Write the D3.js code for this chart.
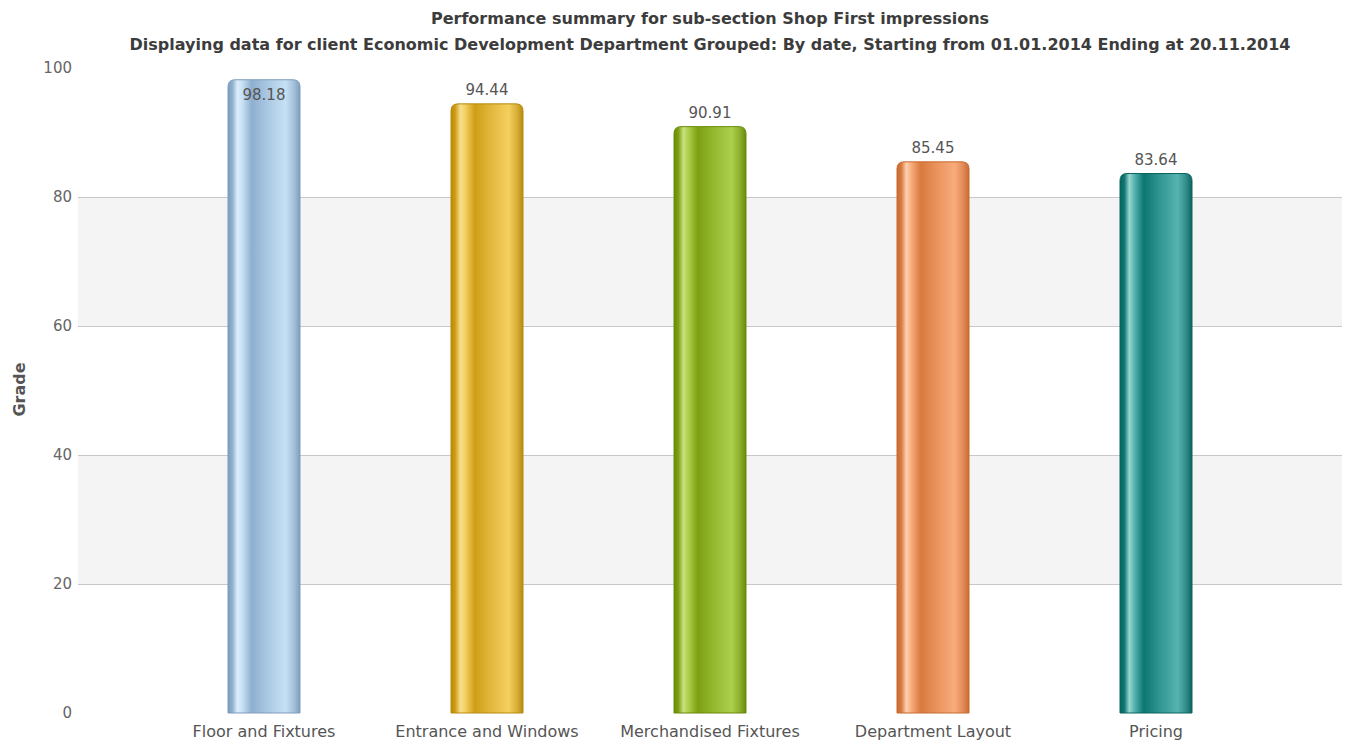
<!DOCTYPE html>
<html>
<head>
  <meta charset="utf-8">
  <script src="https://d3js.org/d3.v7.min.js"></script>
  <style>
    body { margin: 0; background: #fff; }
    svg { display: block; font-family: "DejaVu Sans", Verdana, sans-serif; }
  </style>
</head>
<body>
<div id="chart"></div>
<script>
  // data
  var categories = ["Floor and Fixtures", "Entrance and Windows", "Merchandised Fixtures", "Department Layout", "Pricing"];
  var grades = [98.18, 94.44, 90.91, 85.45, 83.64];
  var yTicks = [0, 20, 40, 60, 80, 100];
  var titleLines = [
    "Performance summary for sub-section Shop First impressions",
    "Displaying data for client Economic Development Department Grouped: By date, Starting from 01.01.2014 Ending at 20.11.2014"
  ];

  // cylinder colours per bar: [edge, highlight, dark, light]
  var barColors = [
    ["#7f9dbb", "#dcecf9", "#8eafcf", "#c6e1f5"],
    ["#b88a0c", "#f6de8e", "#cf9e16", "#f4d060"],
    ["#6a8a0a", "#c8e07e", "#7c9f12", "#acd04c"],
    ["#c96a30", "#fad0b0", "#d97a3e", "#f8ac7c"],
    ["#0b6460", "#9ad6d2", "#0d7672", "#55b4af"]
  ];

  var W = 1349, H = 740;
  var plotLeft = 78, plotRight = 1342, plotTop = 68, plotBottom = 713;

  var svg = d3.select("#chart").append("svg")
    .attr("width", W).attr("height", H);

  var y = d3.scaleLinear().domain([0, 100]).range([plotBottom, plotTop]);
  var x = d3.scaleBand().domain(categories).range([152.5, 1267.5]).paddingInner(0).paddingOuter(0);
  var barW = 72;

  // alternating bands
  var bands = [[20, 40], [60, 80]];
  svg.append("g").selectAll("rect").data(bands).enter().append("rect")
    .attr("x", plotLeft).attr("width", plotRight - plotLeft)
    .attr("y", function(d) { return y(d[1]); })
    .attr("height", function(d) { return y(d[0]) - y(d[1]); })
    .attr("fill", "#f4f4f4");

  // gridlines + tick labels
  var yAxis = d3.axisLeft(y).tickValues(yTicks).tickSize(0).tickPadding(0);
  var ga = svg.append("g").attr("transform", "translate(" + plotLeft + ",0)").call(yAxis);
  ga.select(".domain").remove();
  ga.selectAll(".tick line")
    .attr("x2", function(d) { return (d === 0 || d === 100) ? 0 : plotRight - plotLeft; })
    .attr("stroke", "#c8c8c8");
  ga.selectAll(".tick text")
    .attr("x", -6)
    .attr("fill", "#666")
    .style("font-size", "15px")
    .style("font-family", "DejaVu Sans, Verdana, sans-serif");

  // y axis title
  svg.append("text")
    .attr("transform", "translate(25," + ((plotTop + plotBottom) / 2 - 1) + ") rotate(-90)")
    .attr("text-anchor", "middle")
    .attr("font-weight", "bold")
    .attr("font-size", 16)
    .attr("fill", "#555")
    .text("Grade");

  // titles
  svg.selectAll(".title").data(titleLines).enter().append("text")
    .attr("class", "title")
    .attr("x", 710)
    .attr("y", function(d, i) { return 24 + i * 26; })
    .attr("text-anchor", "middle")
    .attr("font-weight", "bold")
    .attr("font-size", 16)
    .attr("fill", "#3c3c3c")
    .text(function(d) { return d; });

  // gradients
  var defs = svg.append("defs");
  barColors.forEach(function(c, i) {
    var g = defs.append("linearGradient").attr("id", "grad" + i)
      .attr("x1", 0).attr("x2", 1).attr("y1", 0).attr("y2", 0);
    var stops = [
      [0, c[0]], [0.06, c[2]], [0.13, c[1]], [0.2, c[3]],
      [0.33, c[2]], [0.55, d3.interpolateRgb(c[2], c[3])(0.5)],
      [0.8, c[3]], [0.92, d3.interpolateRgb(c[3], c[0])(0.5)], [1, c[0]]
    ];
    stops.forEach(function(s) {
      g.append("stop").attr("offset", s[0]).attr("stop-color", s[1]);
    });
  });

  function barPath(x0, y0, w, h, r) {
    return "M" + x0 + "," + (y0 + h) +
      "V" + (y0 + r) +
      "Q" + x0 + "," + y0 + " " + (x0 + r) + "," + y0 +
      "H" + (x0 + w - r) +
      "Q" + (x0 + w) + "," + y0 + " " + (x0 + w) + "," + (y0 + r) +
      "V" + (y0 + h) + "Z";
  }

  svg.append("g").selectAll("path").data(grades).enter().append("path")
    .attr("d", function(d, i) {
      var cx = x(categories[i]) + x.bandwidth() / 2;
      return barPath(cx - barW / 2, y(d), barW, plotBottom - y(d), 7);
    })
    .attr("fill", function(d, i) { return "url(#grad" + i + ")"; })
    .attr("stroke", function(d, i) { return barColors[i][0]; })
    .attr("stroke-width", 1);

  // value labels
  svg.append("g").selectAll("text").data(grades).enter().append("text")
    .attr("x", function(d, i) { return x(categories[i]) + x.bandwidth() / 2; })
    .attr("y", function(d) {
      var top = y(d);
      var c = top - 14;
      if (c - 8 < plotTop) c = top + 15;
      return c + 5;
    })
    .attr("text-anchor", "middle")
    .attr("font-size", 15)
    .attr("fill", "#555")
    .text(function(d) { return d.toFixed(2); });

  // category labels
  svg.append("g").selectAll("text").data(categories).enter().append("text")
    .attr("x", function(d) { return x(d) + x.bandwidth() / 2; })
    .attr("y", 737)
    .attr("text-anchor", "middle")
    .attr("font-size", 16)
    .attr("fill", "#555")
    .text(function(d) { return d; });
</script>
</body>
</html>
